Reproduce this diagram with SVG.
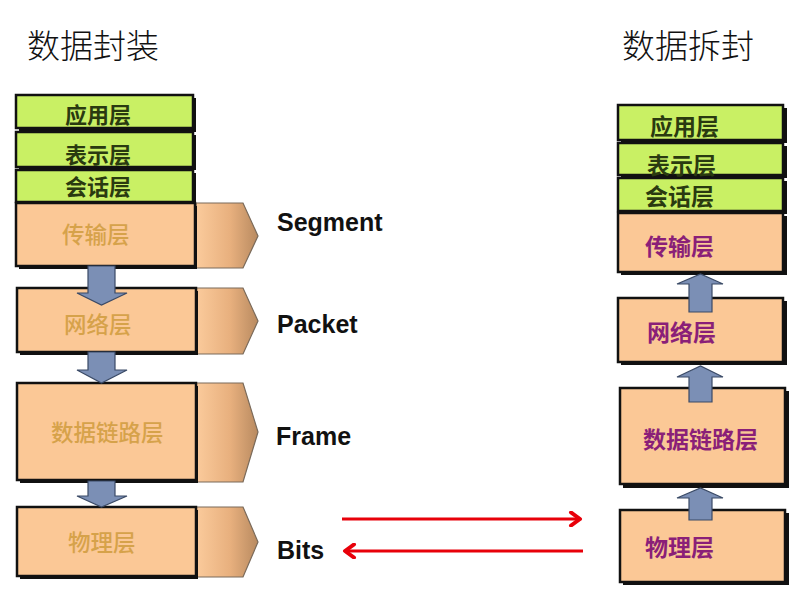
<svg xmlns="http://www.w3.org/2000/svg" width="803" height="603" viewBox="0 0 803 603">
<defs>
<linearGradient id="tagGrad" x1="0" y1="0" x2="1" y2="0">
<stop offset="0" stop-color="#fbcb9c"/>
<stop offset="0.55" stop-color="#e8b07e"/>
<stop offset="1" stop-color="#b88a60"/>
</linearGradient>
<marker id="redHead" markerWidth="16" markerHeight="16" refX="12" refY="8" orient="auto" markerUnits="userSpaceOnUse">
<polyline points="3,1.5 12,8 3,14.5" fill="none" stroke="#e8000a" stroke-width="4" stroke-linecap="round" stroke-linejoin="round"/>
</marker>
</defs>
<style>
.title{font-family:"Noto Sans CJK SC","Noto Sans CJK JP",sans-serif;font-size:33px;font-weight:300;fill:#111}
.shadow{fill:#111}
.green{fill:#c9f064;stroke:#111;stroke-width:2.5}
.orange{fill:#fbc896;stroke:#111;stroke-width:2.5}
.tag{fill:url(#tagGrad);stroke:#7a6a5a;stroke-width:1.2}
.lt{font-family:"Noto Sans CJK SC",sans-serif;font-size:22px;font-weight:700;fill:#2a3a10}
.lo{font-family:"Noto Sans CJK SC",sans-serif;font-size:22.5px;font-weight:500;fill:#d6a24a}
.rt{font-family:"Noto Sans CJK SC",sans-serif;font-size:23px;font-weight:700;fill:#2a3a10}
.rp{font-family:"Noto Sans CJK SC",sans-serif;font-size:23px;font-weight:700;fill:#8a1f78}
.unit{font-family:"Liberation Sans",Arial,sans-serif;font-size:25px;font-weight:700;fill:#111}
.blk{fill:#7b8fb5;stroke:#3a4a66;stroke-width:1.2}
.red{stroke:#e8000a;stroke-width:3;fill:none}
</style>
<rect width="803" height="603" fill="#ffffff"/>

<g id="title-left"><text class="title" x="27" y="58">数据封装</text></g>
<g id="title-right"><text class="title" x="622" y="58">数据拆封</text></g>

<!-- Left stack -->
<g id="L-app">
<rect class="shadow" x="19" y="98" width="177" height="34"/>
<rect class="green" x="16" y="95" width="177" height="33"/>
<text class="lt" x="65" y="123">应用层</text>
</g>
<g id="L-pre">
<rect class="shadow" x="19" y="135" width="177" height="35"/>
<rect class="green" x="16" y="132" width="177" height="35"/>
<text class="lt" x="65" y="163">表示层</text>
</g>
<g id="L-ses">
<rect class="shadow" x="19" y="173" width="177" height="32"/>
<rect class="green" x="16" y="170" width="177" height="32"/>
<text class="lt" x="65" y="195">会话层</text>
</g>
<g id="L-tra">
<polygon class="tag" points="196,203 243,203 258,236 243,268 196,268"/>
<rect class="shadow" x="19" y="206" width="178" height="63"/>
<rect class="orange" x="16" y="203" width="179" height="63"/>
<text class="lo" x="62" y="243">传输层</text>
<text class="unit" x="277" y="231">Segment</text>
</g>
<g id="L-net">
<polygon class="tag" points="196,288 243,288 258,321 243,354 196,354"/>
<rect class="shadow" x="20" y="291" width="178" height="64"/>
<rect class="orange" x="17" y="288" width="179" height="64"/>
<text class="lo" x="64" y="333">网络层</text>
<text class="unit" x="277" y="333">Packet</text>
</g>
<g id="L-dl">
<polygon class="tag" points="196,383 243,383 258,432 243,482 196,482"/>
<rect class="shadow" x="20" y="386" width="178" height="97"/>
<rect class="orange" x="17" y="383" width="179" height="97"/>
<text class="lo" x="51" y="441">数据链路层</text>
<text class="unit" x="276" y="445">Frame</text>
</g>
<g id="L-phy">
<polygon class="tag" points="196,507 243,507 258,542 243,577 196,577"/>
<rect class="shadow" x="20" y="510" width="178" height="69"/>
<rect class="orange" x="17" y="507" width="179" height="69"/>
<text class="lo" x="68" y="551">物理层</text>
<text class="unit" x="277" y="559">Bits</text>
</g>

<!-- Right stack -->
<g id="R-app">
<rect class="shadow" x="621" y="108" width="166" height="35"/>
<rect class="green" x="618" y="105" width="165" height="35"/>
<text class="rt" x="650" y="135">应用层</text>
</g>
<g id="R-pre">
<rect class="shadow" x="621" y="146" width="166" height="32"/>
<rect class="green" x="618" y="143" width="165" height="32"/>
<text class="rt" x="647" y="174">表示层</text>
</g>
<g id="R-ses">
<rect class="shadow" x="621" y="181" width="166" height="33"/>
<rect class="green" x="618" y="178" width="165" height="33"/>
<text class="rt" x="645" y="205">会话层</text>
</g>
<g id="R-tra">
<rect class="shadow" x="621" y="216" width="166" height="59"/>
<rect class="orange" x="618" y="213" width="165" height="59"/>
<text class="rp" x="645" y="255">传输层</text>
</g>
<g id="R-net">
<rect class="shadow" x="621" y="301" width="166" height="64"/>
<rect class="orange" x="618" y="298" width="165" height="64"/>
<text class="rp" x="647" y="341">网络层</text>
</g>
<g id="R-dl">
<rect class="shadow" x="623" y="391" width="166" height="97"/>
<rect class="orange" x="620" y="388" width="165" height="96"/>
<text class="rp" x="643" y="448">数据链路层</text>
</g>
<g id="R-phy">
<rect class="shadow" x="623" y="513" width="166" height="72"/>
<rect class="orange" x="620" y="510" width="165" height="72"/>
<text class="rp" x="645" y="556">物理层</text>
</g>

<g id="connectors">
<!-- left down arrows -->
<polygon class="blk" points="88,266 115,266 115,293 127,293 101.5,305 77,293 88,293"/>
<polygon class="blk" points="88,352 115,352 115,370 127,370 101.5,383 77,370 88,370"/>
<polygon class="blk" points="88,481 115,481 115,496 127,496 101.5,507 77,496 88,496"/>
<!-- right up arrows -->
<polygon class="blk" points="689,312 712,312 712,284 723,284 700.5,274 677,284 689,284"/>
<polygon class="blk" points="689,402 712,402 712,377 723,377 700.5,366 677,377 689,377"/>
<polygon class="blk" points="689,520 712,520 712,498 723,498 700.5,488 677,498 689,498"/>
<!-- red transfer arrows -->
<line class="red" x1="342" y1="519" x2="580" y2="519" marker-end="url(#redHead)"/>
<line class="red" x1="583" y1="551" x2="345" y2="551" marker-end="url(#redHead)"/>
</g>
</svg>
